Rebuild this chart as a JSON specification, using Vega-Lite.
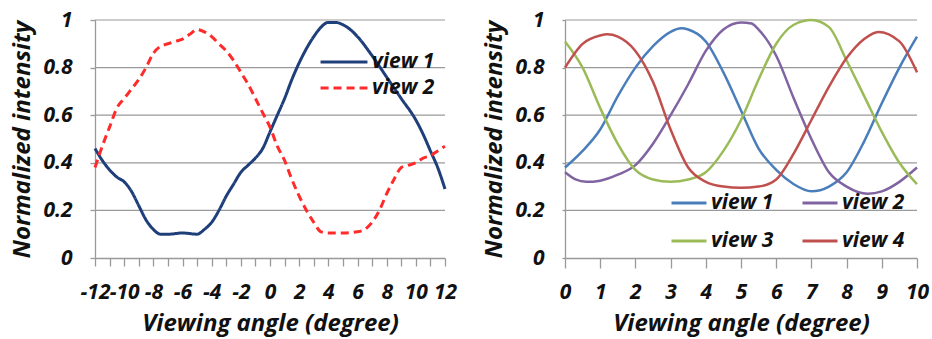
{
  "$schema": "https://vega.github.io/schema/vega-lite/v6.json",
  "padding": {"top": 9, "left": 10, "right": 6, "bottom": 2},
  "spacing": 25,
  "resolve": {"scale": {"color": "independent", "strokeDash": "independent"}, "legend": {"color": "independent", "strokeDash": "independent"}},
  "config": {
    "font": "Open Sans",
    "view": {"stroke": null},
    "axis": {
      "labelFont": "Open Sans", "labelFontStyle": "italic", "labelFontWeight": "bold", "labelFontSize": 21, "labelColor": "#111111",
      "titleFont": "Open Sans", "titleFontStyle": "italic", "titleFontWeight": "bold", "titleFontSize": 24, "titleColor": "#111111",
      "domainColor": "#999999", "domainWidth": 1.3, "tickColor": "#999999", "tickWidth": 1.3, "labelFlush": false, "labelOverlap": false, "grid": false
    },
    "legend": {
      "labelFont": "Open Sans", "labelFontStyle": "italic", "labelFontWeight": "bold", "labelFontSize": 21, "labelColor": "#111111",
      "symbolType": "stroke", "title": null
    }
  },
  "datasets": {
    "grid": [{"g": 0.2}, {"g": 0.4}, {"g": 0.6}, {"g": 0.8}, {"g": 1.0}],
    "left": [
      {"series": "view 1", "angle": -12, "intensity": 0.46},
      {"series": "view 1", "angle": -11.5, "intensity": 0.41},
      {"series": "view 1", "angle": -11, "intensity": 0.37},
      {"series": "view 1", "angle": -10.5, "intensity": 0.34},
      {"series": "view 1", "angle": -10, "intensity": 0.32},
      {"series": "view 1", "angle": -9.5, "intensity": 0.28},
      {"series": "view 1", "angle": -9, "intensity": 0.22},
      {"series": "view 1", "angle": -8.5, "intensity": 0.16},
      {"series": "view 1", "angle": -8, "intensity": 0.12},
      {"series": "view 1", "angle": -7.5, "intensity": 0.10},
      {"series": "view 1", "angle": -7, "intensity": 0.10},
      {"series": "view 1", "angle": -6, "intensity": 0.105},
      {"series": "view 1", "angle": -5, "intensity": 0.10},
      {"series": "view 1", "angle": -4.5, "intensity": 0.12},
      {"series": "view 1", "angle": -4, "intensity": 0.15},
      {"series": "view 1", "angle": -3.5, "intensity": 0.20},
      {"series": "view 1", "angle": -3, "intensity": 0.26},
      {"series": "view 1", "angle": -2.5, "intensity": 0.31},
      {"series": "view 1", "angle": -2, "intensity": 0.36},
      {"series": "view 1", "angle": -1.5, "intensity": 0.39},
      {"series": "view 1", "angle": -1, "intensity": 0.42},
      {"series": "view 1", "angle": -0.5, "intensity": 0.46},
      {"series": "view 1", "angle": 0, "intensity": 0.53},
      {"series": "view 1", "angle": 0.5, "intensity": 0.60},
      {"series": "view 1", "angle": 1, "intensity": 0.67},
      {"series": "view 1", "angle": 1.5, "intensity": 0.75},
      {"series": "view 1", "angle": 2, "intensity": 0.82},
      {"series": "view 1", "angle": 2.5, "intensity": 0.88},
      {"series": "view 1", "angle": 3, "intensity": 0.93},
      {"series": "view 1", "angle": 3.5, "intensity": 0.97},
      {"series": "view 1", "angle": 4, "intensity": 0.99},
      {"series": "view 1", "angle": 4.5, "intensity": 0.99},
      {"series": "view 1", "angle": 5, "intensity": 0.98},
      {"series": "view 1", "angle": 5.5, "intensity": 0.96},
      {"series": "view 1", "angle": 6, "intensity": 0.93},
      {"series": "view 1", "angle": 7, "intensity": 0.85},
      {"series": "view 1", "angle": 8, "intensity": 0.76},
      {"series": "view 1", "angle": 9, "intensity": 0.67},
      {"series": "view 1", "angle": 10, "intensity": 0.58},
      {"series": "view 1", "angle": 10.5, "intensity": 0.52},
      {"series": "view 1", "angle": 11, "intensity": 0.45},
      {"series": "view 1", "angle": 11.5, "intensity": 0.38},
      {"series": "view 1", "angle": 12, "intensity": 0.29},
      {"series": "view 2", "angle": -12, "intensity": 0.38},
      {"series": "view 2", "angle": -11.5, "intensity": 0.47},
      {"series": "view 2", "angle": -11, "intensity": 0.55},
      {"series": "view 2", "angle": -10.5, "intensity": 0.63},
      {"series": "view 2", "angle": -10, "intensity": 0.67},
      {"series": "view 2", "angle": -9.5, "intensity": 0.71},
      {"series": "view 2", "angle": -9, "intensity": 0.75},
      {"series": "view 2", "angle": -8.5, "intensity": 0.80},
      {"series": "view 2", "angle": -8, "intensity": 0.86},
      {"series": "view 2", "angle": -7.5, "intensity": 0.89},
      {"series": "view 2", "angle": -7, "intensity": 0.90},
      {"series": "view 2", "angle": -6.5, "intensity": 0.91},
      {"series": "view 2", "angle": -6, "intensity": 0.92},
      {"series": "view 2", "angle": -5.5, "intensity": 0.94},
      {"series": "view 2", "angle": -5, "intensity": 0.96},
      {"series": "view 2", "angle": -4.5, "intensity": 0.95},
      {"series": "view 2", "angle": -4, "intensity": 0.93},
      {"series": "view 2", "angle": -3.5, "intensity": 0.90},
      {"series": "view 2", "angle": -3, "intensity": 0.87},
      {"series": "view 2", "angle": -2.5, "intensity": 0.83},
      {"series": "view 2", "angle": -2, "intensity": 0.78},
      {"series": "view 2", "angle": -1.5, "intensity": 0.73},
      {"series": "view 2", "angle": -1, "intensity": 0.67},
      {"series": "view 2", "angle": -0.5, "intensity": 0.61},
      {"series": "view 2", "angle": 0, "intensity": 0.55},
      {"series": "view 2", "angle": 0.5, "intensity": 0.47},
      {"series": "view 2", "angle": 1, "intensity": 0.41},
      {"series": "view 2", "angle": 1.5, "intensity": 0.33},
      {"series": "view 2", "angle": 2, "intensity": 0.26},
      {"series": "view 2", "angle": 2.5, "intensity": 0.20},
      {"series": "view 2", "angle": 3, "intensity": 0.15},
      {"series": "view 2", "angle": 3.5, "intensity": 0.11},
      {"series": "view 2", "angle": 4, "intensity": 0.105},
      {"series": "view 2", "angle": 5, "intensity": 0.105},
      {"series": "view 2", "angle": 6, "intensity": 0.11},
      {"series": "view 2", "angle": 6.5, "intensity": 0.12},
      {"series": "view 2", "angle": 7, "intensity": 0.15},
      {"series": "view 2", "angle": 7.5, "intensity": 0.20},
      {"series": "view 2", "angle": 8, "intensity": 0.27},
      {"series": "view 2", "angle": 8.5, "intensity": 0.33},
      {"series": "view 2", "angle": 9, "intensity": 0.38},
      {"series": "view 2", "angle": 9.5, "intensity": 0.39},
      {"series": "view 2", "angle": 10, "intensity": 0.40},
      {"series": "view 2", "angle": 10.5, "intensity": 0.42},
      {"series": "view 2", "angle": 11, "intensity": 0.43},
      {"series": "view 2", "angle": 11.5, "intensity": 0.45},
      {"series": "view 2", "angle": 12, "intensity": 0.47}
    ],
    "right": [
      {"series": "view 1", "angle": 0, "intensity": 0.38},
      {"series": "view 1", "angle": 0.5, "intensity": 0.45},
      {"series": "view 1", "angle": 1, "intensity": 0.54},
      {"series": "view 1", "angle": 1.5, "intensity": 0.68},
      {"series": "view 1", "angle": 2, "intensity": 0.80},
      {"series": "view 1", "angle": 2.5, "intensity": 0.89},
      {"series": "view 1", "angle": 3, "intensity": 0.95},
      {"series": "view 1", "angle": 3.3, "intensity": 0.965},
      {"series": "view 1", "angle": 3.5, "intensity": 0.96},
      {"series": "view 1", "angle": 4, "intensity": 0.91},
      {"series": "view 1", "angle": 4.5, "intensity": 0.78},
      {"series": "view 1", "angle": 5, "intensity": 0.62},
      {"series": "view 1", "angle": 5.5, "intensity": 0.46},
      {"series": "view 1", "angle": 6, "intensity": 0.37},
      {"series": "view 1", "angle": 6.5, "intensity": 0.31},
      {"series": "view 1", "angle": 7, "intensity": 0.28},
      {"series": "view 1", "angle": 7.5, "intensity": 0.30},
      {"series": "view 1", "angle": 8, "intensity": 0.36},
      {"series": "view 1", "angle": 8.5, "intensity": 0.49},
      {"series": "view 1", "angle": 9, "intensity": 0.65},
      {"series": "view 1", "angle": 9.5, "intensity": 0.80},
      {"series": "view 1", "angle": 10, "intensity": 0.93},
      {"series": "view 2", "angle": 0, "intensity": 0.36},
      {"series": "view 2", "angle": 0.3, "intensity": 0.33},
      {"series": "view 2", "angle": 0.6, "intensity": 0.32},
      {"series": "view 2", "angle": 1, "intensity": 0.325},
      {"series": "view 2", "angle": 1.5, "intensity": 0.35},
      {"series": "view 2", "angle": 2, "intensity": 0.39},
      {"series": "view 2", "angle": 2.5, "intensity": 0.48},
      {"series": "view 2", "angle": 3, "intensity": 0.60},
      {"series": "view 2", "angle": 3.5, "intensity": 0.73},
      {"series": "view 2", "angle": 4, "intensity": 0.87},
      {"series": "view 2", "angle": 4.5, "intensity": 0.96},
      {"series": "view 2", "angle": 5, "intensity": 0.99},
      {"series": "view 2", "angle": 5.3, "intensity": 0.985},
      {"series": "view 2", "angle": 5.5, "intensity": 0.96},
      {"series": "view 2", "angle": 6, "intensity": 0.85},
      {"series": "view 2", "angle": 6.5, "intensity": 0.67},
      {"series": "view 2", "angle": 7, "intensity": 0.50},
      {"series": "view 2", "angle": 7.5, "intensity": 0.36},
      {"series": "view 2", "angle": 8, "intensity": 0.30},
      {"series": "view 2", "angle": 8.6, "intensity": 0.27},
      {"series": "view 2", "angle": 9, "intensity": 0.28},
      {"series": "view 2", "angle": 9.5, "intensity": 0.32},
      {"series": "view 2", "angle": 10, "intensity": 0.38},
      {"series": "view 3", "angle": 0, "intensity": 0.91},
      {"series": "view 3", "angle": 0.5, "intensity": 0.80},
      {"series": "view 3", "angle": 1, "intensity": 0.63},
      {"series": "view 3", "angle": 1.5, "intensity": 0.48},
      {"series": "view 3", "angle": 2, "intensity": 0.37},
      {"series": "view 3", "angle": 2.5, "intensity": 0.33},
      {"series": "view 3", "angle": 3, "intensity": 0.32},
      {"series": "view 3", "angle": 3.5, "intensity": 0.33},
      {"series": "view 3", "angle": 4, "intensity": 0.36},
      {"series": "view 3", "angle": 4.5, "intensity": 0.45},
      {"series": "view 3", "angle": 5, "intensity": 0.58},
      {"series": "view 3", "angle": 5.5, "intensity": 0.75},
      {"series": "view 3", "angle": 6, "intensity": 0.90},
      {"series": "view 3", "angle": 6.5, "intensity": 0.98},
      {"series": "view 3", "angle": 7, "intensity": 1.0},
      {"series": "view 3", "angle": 7.5, "intensity": 0.97},
      {"series": "view 3", "angle": 8, "intensity": 0.83},
      {"series": "view 3", "angle": 8.5, "intensity": 0.68},
      {"series": "view 3", "angle": 9, "intensity": 0.53},
      {"series": "view 3", "angle": 9.5, "intensity": 0.40},
      {"series": "view 3", "angle": 10, "intensity": 0.31},
      {"series": "view 4", "angle": 0, "intensity": 0.80},
      {"series": "view 4", "angle": 0.5, "intensity": 0.90},
      {"series": "view 4", "angle": 1, "intensity": 0.935},
      {"series": "view 4", "angle": 1.2, "intensity": 0.94},
      {"series": "view 4", "angle": 1.5, "intensity": 0.93},
      {"series": "view 4", "angle": 2, "intensity": 0.87},
      {"series": "view 4", "angle": 2.5, "intensity": 0.74},
      {"series": "view 4", "angle": 3, "intensity": 0.54},
      {"series": "view 4", "angle": 3.5, "intensity": 0.38},
      {"series": "view 4", "angle": 4, "intensity": 0.32},
      {"series": "view 4", "angle": 4.5, "intensity": 0.30},
      {"series": "view 4", "angle": 5, "intensity": 0.295},
      {"series": "view 4", "angle": 5.5, "intensity": 0.30},
      {"series": "view 4", "angle": 6, "intensity": 0.33},
      {"series": "view 4", "angle": 6.5, "intensity": 0.44},
      {"series": "view 4", "angle": 7, "intensity": 0.58},
      {"series": "view 4", "angle": 7.5, "intensity": 0.72},
      {"series": "view 4", "angle": 8, "intensity": 0.84},
      {"series": "view 4", "angle": 8.5, "intensity": 0.92},
      {"series": "view 4", "angle": 8.9, "intensity": 0.95},
      {"series": "view 4", "angle": 9.5, "intensity": 0.91},
      {"series": "view 4", "angle": 10, "intensity": 0.78}
    ]
  },
  "hconcat": [
    {
      "width": 350,
      "height": 238,
      "layer": [
        {
          "data": {"name": "grid"},
          "mark": {"type": "rule", "color": "#9a9a9a", "strokeWidth": 1.2},
          "encoding": {
            "y": {"field": "g", "type": "quantitative", "scale": {"domain": [0, 1], "nice": false}}
          }
        },
        {
          "data": {"name": "left"},
          "mark": {"type": "line", "interpolate": "monotone", "strokeWidth": 3},
          "encoding": {
            "x": {
              "field": "angle", "type": "quantitative",
              "scale": {"domain": [-12, 12], "nice": false, "zero": false},
              "axis": {
                "title": "Viewing angle (degree)",
                "values": [-12,-11,-10,-9,-8,-7,-6,-5,-4,-3,-2,-1,0,1,2,3,4,5,6,7,8,9,10,11,12],
                "labelExpr": "datum.value % 2 == 0 ? '' + datum.value : ''",
                "tickSize": 8, "labelPadding": 15, "titlePadding": 9
              }
            },
            "y": {
              "field": "intensity", "type": "quantitative",
              "scale": {"domain": [0, 1], "nice": false},
              "axis": {
                "title": "Normalized intensity",
                "values": [0,0.1,0.2,0.3,0.4,0.5,0.6,0.7,0.8,0.9,1],
                "labelExpr": "round(datum.value*10) % 2 == 0 ? '' + round(datum.value*10)/10 : ''",
                "tickSize": 5, "labelPadding": 18, "titlePadding": 8
              }
            },
            "color": {
              "field": "series", "type": "nominal",
              "scale": {"domain": ["view 1", "view 2"], "range": ["#1f3f7a", "#ff2b2b"]},
              "legend": {
                "orient": "none", "legendX": 224, "legendY": 31,
                "symbolSize": 2200, "symbolStrokeWidth": 3, "clipHeight": 22, "rowPadding": 4, "labelOffset": 3
              }
            },
            "strokeDash": {
              "field": "series", "type": "nominal",
              "scale": {"domain": ["view 1", "view 2"], "range": [[1, 0], [8, 5]]},
              "legend": {
                "orient": "none", "legendX": 224, "legendY": 31,
                "symbolSize": 2200, "symbolStrokeWidth": 3, "clipHeight": 22, "rowPadding": 4, "labelOffset": 3
              }
            }
          }
        }
      ]
    },
    {
      "width": 352,
      "height": 238,
      "layer": [
        {
          "data": {"name": "grid"},
          "mark": {"type": "rule", "color": "#9a9a9a", "strokeWidth": 1.2},
          "encoding": {
            "y": {"field": "g", "type": "quantitative", "scale": {"domain": [0, 1], "nice": false}}
          }
        },
        {
          "data": {"name": "right"},
          "mark": {"type": "line", "interpolate": "monotone", "strokeWidth": 2.5},
          "encoding": {
            "x": {
              "field": "angle", "type": "quantitative",
              "scale": {"domain": [0, 10], "nice": false},
              "axis": {
                "title": "Viewing angle (degree)",
                "values": [0,1,2,3,4,5,6,7,8,9,10],
                "labelExpr": "'' + datum.value",
                "tickSize": 10, "labelPadding": 13, "titlePadding": 9
              }
            },
            "y": {
              "field": "intensity", "type": "quantitative",
              "scale": {"domain": [0, 1], "nice": false},
              "axis": {
                "title": "Normalized intensity",
                "values": [0,0.2,0.4,0.6,0.8,1],
                "labelExpr": "'' + round(datum.value*10)/10",
                "tickSize": 3, "labelPadding": 18, "titlePadding": 8
              }
            },
            "color": {
              "field": "series", "type": "nominal",
              "scale": {"domain": ["view 1", "view 2", "view 3", "view 4"], "range": ["#4a7ebb", "#8064a2", "#9bbb59", "#c0504d"]},
              "legend": {
                "orient": "none", "legendX": 105, "legendY": 172, "columns": 2, "direction": "horizontal",
                "symbolSize": 1225, "symbolStrokeWidth": 3, "clipHeight": 22, "rowPadding": 16, "columnPadding": 27, "labelOffset": 3
              }
            }
          }
        }
      ]
    }
  ]
}
